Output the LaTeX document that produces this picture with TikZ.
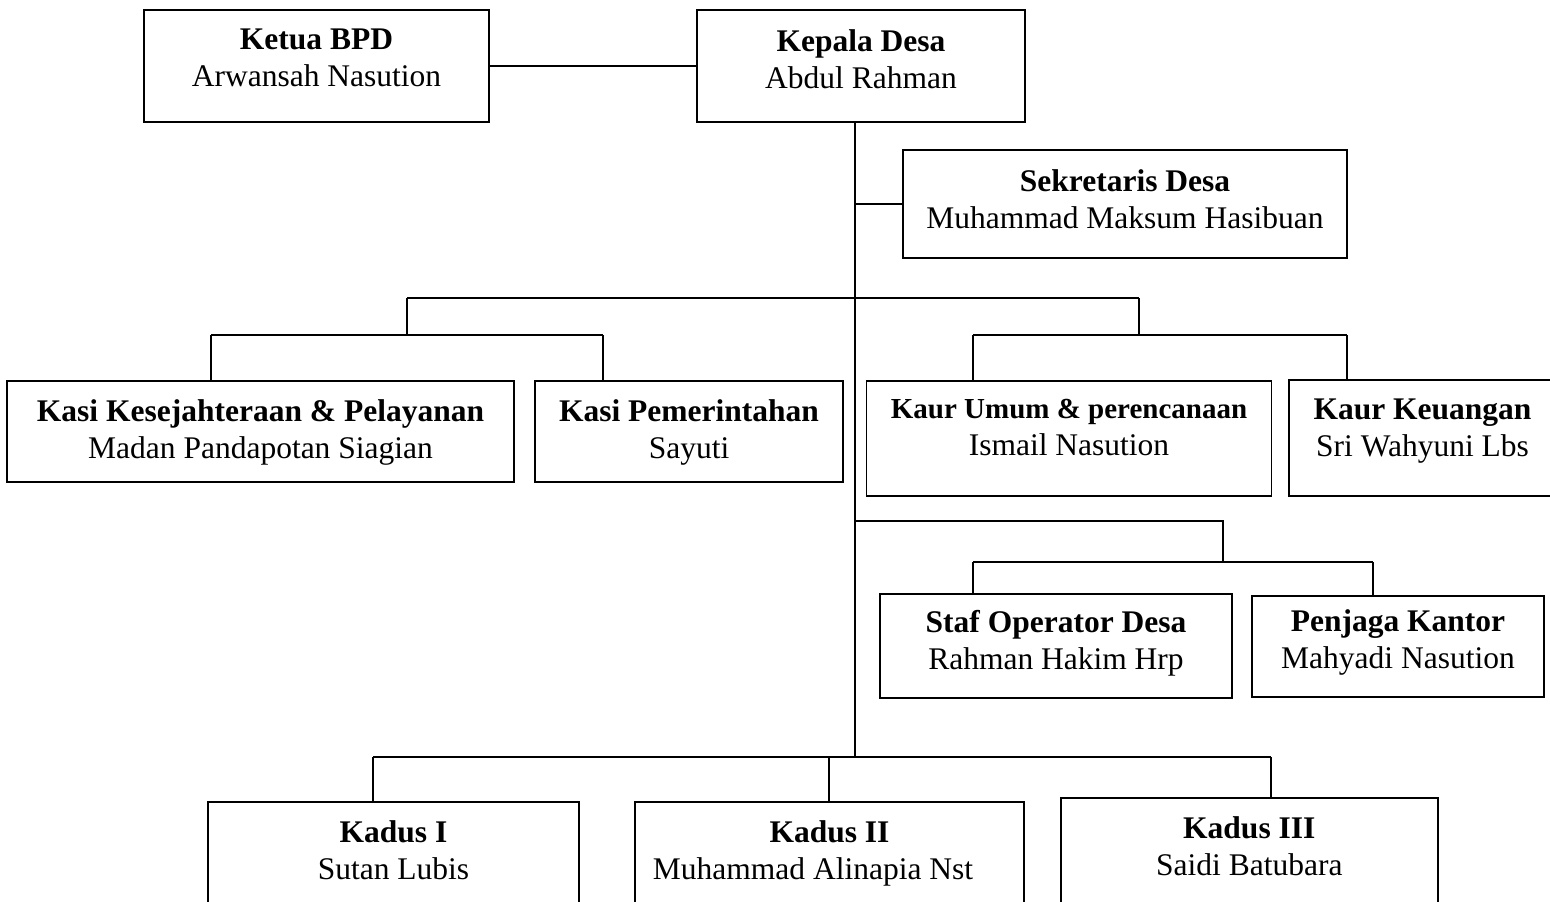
\documentclass[tikz,border=0pt]{standalone}
\usepackage{fontspec}
\setmainfont{Liberation Serif}
\usetikzlibrary{positioning, calc}

\begin{document}
\begin{tikzpicture}[
        x=1pt, y=-1pt,
        box/.style={draw, line width=1.8pt, inner sep=0pt},
        txt/.style={anchor=north, align=center, inner sep=0pt, font=\fontsize{31.5pt}{37pt}\selectfont},
        link/.style={line width=1.8pt}
    ]
        \clip (0,0) rectangle (1550,902);

        \node[box, minimum width=345pt, minimum height=112pt] (ketua) at (316.5,66) {};
        \node[box, minimum width=328pt, minimum height=112pt] (kepala) at (861,66) {};
        \node[box, minimum width=444pt, minimum height=108pt] (sek) at (1125,204) {};
        \node[box, minimum width=507pt, minimum height=101pt] (kesra) at (260.5,431.5) {};
        \node[box, minimum width=308pt, minimum height=101pt] (pem) at (689,431.5) {};
        \node[box, minimum width=405pt, minimum height=115pt] (umum) at (1069,438.5) {};
        \node[box, minimum width=267pt, minimum height=116pt] (keu) at (1422.5,438) {};
        \node[box, minimum width=352pt, minimum height=104pt] (staf) at (1056,646) {};
        \node[box, minimum width=292pt, minimum height=101pt] (jaga) at (1398,646.5) {};
        \node[box, minimum width=371pt, minimum height=160pt] (kadus1) at (393.5,881.7) {};
        \node[box, minimum width=389pt, minimum height=160pt] (kadus2) at (829.5,881.7) {};
        \node[box, minimum width=377pt, minimum height=160pt] (kadus3) at (1249.3,877.7) {};

        \node[txt] (ketua-t) at ([yshift=-20pt]ketua.north) {\textbf{Ketua BPD}\\Arwansah Nasution};
        \node[txt] (kepala-t) at ([yshift=-20pt]kepala.north) {\textbf{Kepala Desa}\\Abdul Rahman};
        \node[txt] (sek-t) at ([yshift=-20pt]sek.north) {\textbf{Sekretaris Desa}\\Muhammad Maksum Hasibuan};
        \node[txt] (kesra-t) at ([yshift=-19pt]kesra.north) {\textbf{Kasi Kesejahteraan \& Pelayanan}\\Madan Pandapotan Siagian};
        \node[txt] (pem-t) at ([yshift=-19pt]pem.north) {\textbf{Kasi Pemerintahan}\\Sayuti};
        \node[txt] (umum-t) at ([yshift=-19pt]umum.north) {{\fontsize{29pt}{37pt}\selectfont\textbf{Kaur Umum \& perencanaan}}\\Ismail Nasution};
        \node[txt] (keu-t) at ([yshift=-20pt]keu.north) {\textbf{Kaur Keuangan}\\Sri Wahyuni Lbs};
        \node[txt] (staf-t) at ([yshift=-17pt]staf.north) {\textbf{Staf Operator Desa}\\Rahman Hakim Hrp};
        \node[txt] (jaga-t) at ([yshift=-14pt]jaga.north) {\textbf{Penjaga Kantor}\\Mahyadi Nasution};
        \node[txt] (kadus1-t) at ([yshift=-20pt]kadus1.north) {\textbf{Kadus I}\\Sutan Lubis};
        \node[txt] (kadus2-t) at ([yshift=-20pt]kadus2.north) {\textbf{Kadus II}\\Muhammad Alinapia Nst\hspace*{33pt}};
        \node[txt] (kadus3-t) at ([yshift=-20pt]kadus3.north) {\textbf{Kadus III}\\Saidi Batubara};

        \coordinate (jsek) at (855,204);
        \coordinate (lft) at (407,298);
        \coordinate (rgt) at (1139,298);
        \coordinate (kasibar) at (407,335);
        \coordinate (kaurbar) at (1139,335);
        \coordinate (dkesra) at (211,335);
        \coordinate (dpem) at (603,335);
        \coordinate (dumum) at (973,335);
        \coordinate (dkeu) at (1347,335);
        \coordinate (jstaf) at (855,521);
        \coordinate (stafmid) at (1223,562);
        \coordinate (dstaf) at (973,562);
        \coordinate (djaga) at (1373,562);
        \coordinate (jkadus) at (855,757);
        \coordinate (dk1) at (373,757);
        \coordinate (dk2) at (829,757);
        \coordinate (dk3) at (1271,757);

        \draw[link] (ketua) -- (kepala);
        \draw[link] (kepala.south -| jkadus) -- (jkadus);
        \draw[link] (jsek) -- (sek.west);
        \draw[link] (lft) -- (rgt);
        \draw[link] (lft) -- (kasibar);
        \draw[link] (rgt) -- (kaurbar);
        \draw[link] (dkesra) -- (dpem);
        \draw[link] (dumum) -- (dkeu);
        \draw[link] (dkesra) -- (dkesra |- kesra.north);
        \draw[link] (dpem) -- (dpem |- pem.north);
        \draw[link] (dumum) -- (dumum |- umum.north);
        \draw[link] (dkeu) -- (dkeu |- keu.north);
        \draw[link] (jstaf) -| (stafmid);
        \draw[link] (dstaf) -- (djaga);
        \draw[link] (dstaf) -- (dstaf |- staf.north);
        \draw[link] (djaga) -- (djaga |- jaga.north);
        \draw[link] (dk1) -- (dk3);
        \draw[link] (dk1) -- (dk1 |- kadus1.north);
        \draw[link] (dk2) -- (dk2 |- kadus2.north);
        \draw[link] (dk3) -- (dk3 |- kadus3.north);
    \end{tikzpicture}
\end{document}
